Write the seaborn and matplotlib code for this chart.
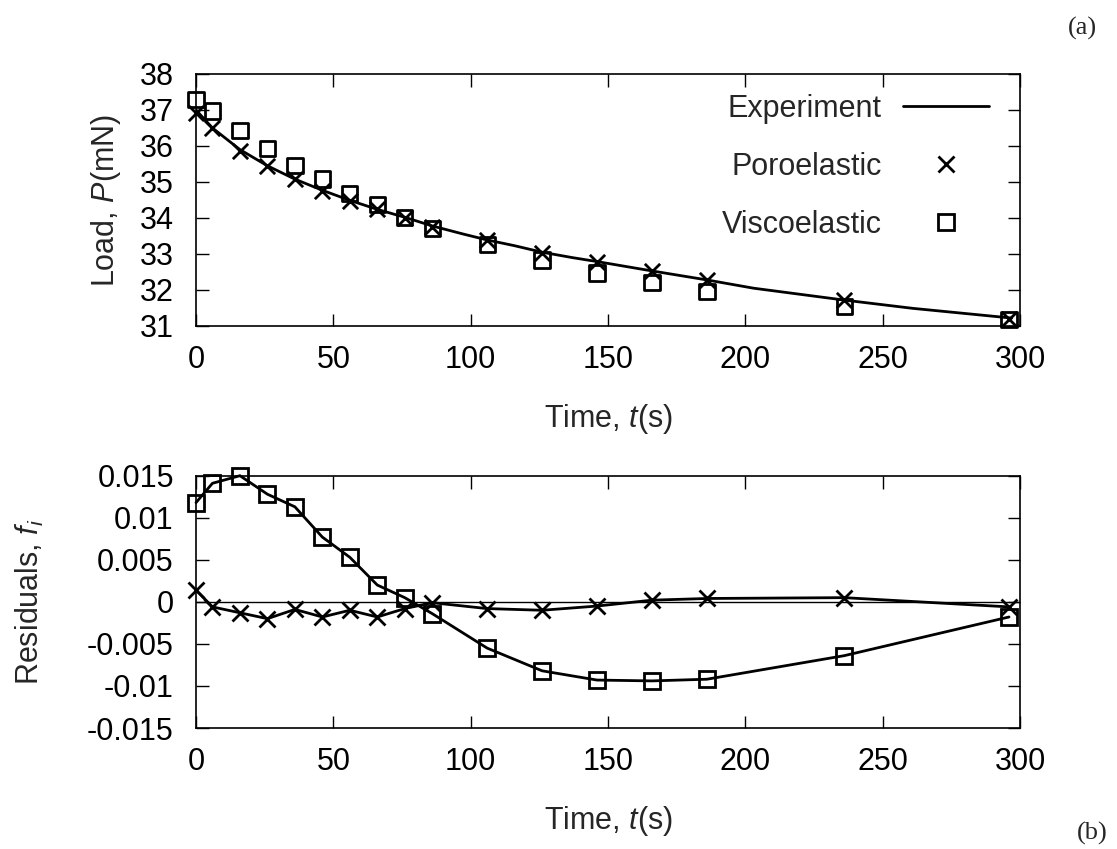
import matplotlib
matplotlib.use('Agg')
import matplotlib.pyplot as plt
from matplotlib.lines import Line2D
import seaborn as sns
import pandas as pd

# experiment curve
exp_t = [0, 6, 16, 26, 36, 46, 56, 66, 76, 86, 97, 106, 116, 126, 137, 146, 166, 186, 203, 236, 261, 285, 297]
exp_p = [37.0, 36.5, 35.9, 35.45, 35.08, 34.77, 34.49, 34.24, 34.02, 33.78, 33.56, 33.39, 33.23, 33.05, 32.9,
         32.79, 32.53, 32.28, 32.05, 31.72, 31.49, 31.31, 31.22]

# model sample times
fit_t = [0, 6, 16, 26, 36, 46, 56, 66, 76, 86, 106, 126, 146, 166, 186, 236, 296]
poro_p = [36.93, 36.49, 35.87, 35.44, 35.07, 34.76, 34.48, 34.24, 34.01, 33.76, 33.39, 33.04, 32.79, 32.54,
          32.28, 31.72, 31.19]
visco_p = [37.30, 36.97, 36.43, 35.94, 35.46, 35.08, 34.69, 34.38, 34.01, 33.71, 33.27, 32.83, 32.47, 32.20,
           31.95, 31.54, 31.19]

# residuals
poro_res = [0.0014, -0.0006, -0.0013, -0.0020, -0.0009, -0.0018, -0.0010, -0.0018, -0.0008, -0.0001, -0.0008,
            -0.0010, -0.0005, 0.0002, 0.0004, 0.0005, -0.0006]
visco_res = [0.0118, 0.0141, 0.0150, 0.0128, 0.0113, 0.0077, 0.0053, 0.0020, 0.0005, -0.0014, -0.0055, -0.0082,
             -0.0093, -0.0094, -0.0092, -0.0064, -0.0018]

x_ticks = [0, 50, 100, 150, 200, 250, 300]
load_ticks = [31, 32, 33, 34, 35, 36, 37, 38]
res_ticks = [-0.015, -0.01, -0.005, 0, 0.005, 0.01, 0.015]
res_labels = ['-0.015', '-0.01', '-0.005', '0', '0.005', '0.01', '0.015']

exp_df = pd.DataFrame({'t': exp_t, 'P': exp_p})
fit_df = pd.DataFrame({'t': fit_t, 'poro': poro_p, 'visco': visco_p,
                       'poro_res': poro_res, 'visco_res': visco_res})

sns.set_style('ticks')
plt.rcParams['font.family'] = ['Liberation Sans', 'DejaVu Sans']
plt.rcParams['mathtext.fontset'] = 'custom'
plt.rcParams['mathtext.rm'] = 'Liberation Sans'
plt.rcParams['mathtext.it'] = 'Liberation Sans:italic'
plt.rcParams['axes.unicode_minus'] = False

FS = 22
fig = plt.figure(figsize=(11.17, 8.49), dpi=100)
ax1 = fig.add_axes([196 / 1117, 1 - 326 / 849, 824 / 1117, 252 / 849])
ax2 = fig.add_axes([196 / 1117, 1 - 728 / 849, 824 / 1117, 252.3 / 849])

ms = 11
mew = 2.0
lw = 2.0

# top panel
sns.lineplot(data=exp_df, x='t', y='P', color='k', lw=lw, ax=ax1)
sns.scatterplot(data=fit_df, x='t', y='poro', marker='x', color='k', s=ms ** 2, linewidth=mew, ax=ax1,
                zorder=3, clip_on=False)
sns.scatterplot(data=fit_df, x='t', y='visco', marker='s', facecolor='none', edgecolor='k', s=ms ** 2,
                linewidth=mew, ax=ax1, zorder=3, clip_on=False)
ax1.set_ylim(31, 38)
ax1.set_yticks(load_ticks)
ax1.set_ylabel('Load, $P$(mN)', fontsize=FS)
ax1.yaxis.set_label_coords(-0.088, 0.5)

handles = [Line2D([], [], color='k', lw=lw),
           Line2D([], [], color='k', ls='', marker='x', ms=ms, mew=mew),
           Line2D([], [], color='k', ls='', marker='s', ms=ms, mew=mew, mfc='none')]
ax1.legend(handles, ['Experiment', 'Poroelastic', 'Viscoelastic'], loc='upper right', frameon=False,
           markerfirst=False, fontsize=FS, handlelength=2.8, handletextpad=0.7, labelspacing=0.92,
           bbox_to_anchor=(0.977, 0.97), borderaxespad=0)

# bottom panel
ax2.axhline(0, color='k', lw=1.0)
sns.lineplot(data=fit_df, x='t', y='poro_res', color='k', lw=lw, marker='x', markersize=ms,
             markeredgewidth=mew, markeredgecolor='k', ax=ax2, clip_on=False)
sns.lineplot(data=fit_df, x='t', y='visco_res', color='k', lw=lw, marker='s', markersize=ms,
             markeredgewidth=mew, markeredgecolor='k', markerfacecolor='none', ax=ax2, clip_on=False)
ax2.set_ylim(-0.015, 0.015)
ax2.set_yticks(res_ticks)
ax2.set_yticklabels(res_labels)
ax2.set_ylabel('Residuals, $f_i$', fontsize=FS)
ax2.yaxis.set_label_coords(-0.182, 0.5)

for ax in (ax1, ax2):
    ax.set_xlim(0, 300)
    ax.set_xticks(x_ticks)
    ax.set_xlabel('Time, $t$(s)', fontsize=FS)
    ax.xaxis.set_label_coords(0.5, -0.30)
    ax.tick_params(direction='in', top=True, right=True, length=9, width=1.0, labelsize=FS, colors='k')
    ax.tick_params(axis='x', pad=14)
    ax.tick_params(axis='y', pad=16)
    for sp in ax.spines.values():
        sp.set_linewidth(1.2)
        sp.set_color('k')

fig.text(1082 / 1117, 1 - 28 / 849, '(a)', fontsize=19, family='Liberation Serif', ha='center', va='center')
fig.text(1092 / 1117, 1 - 833 / 849, '(b)', fontsize=19, family='Liberation Serif', ha='center', va='center')

fig.savefig('out.png', dpi=100)
